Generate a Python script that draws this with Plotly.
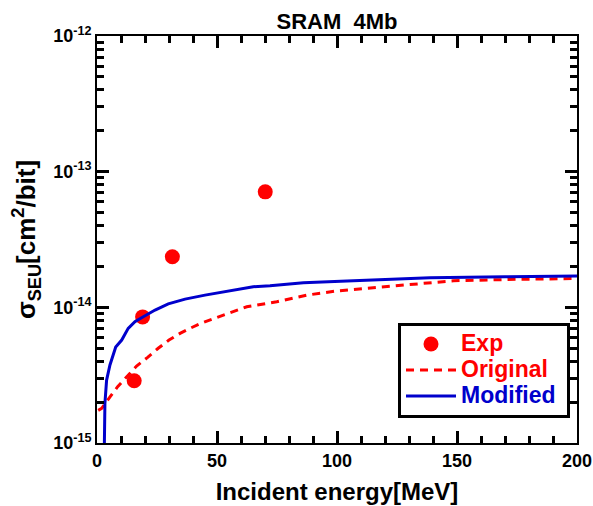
import plotly.graph_objects as go

# Measured SEU cross sections
exp_energy = [15.5, 19.0, 31.4, 70.1]
exp_sigma = [2.88e-15, 8.5e-15, 2.36e-14, 7.1e-14]

# Original model
orig_energy = [0.5, 1.96, 5.42, 8.6, 12.4, 16.5, 21.1, 25.5, 30.0, 34.6, 38.75, 43.3,
               47.8, 52.6, 62.4, 74.9, 87.4, 99.9, 113.75, 127.6, 137.4, 148.5,
               176.25, 194.3, 200.0]
orig_sigma = [1.74e-15, 1.80e-15, 2.19e-15, 2.60e-15, 3.08e-15, 3.69e-15, 4.28e-15,
              4.99e-15, 5.74e-15, 6.43e-15, 7.0e-15, 7.62e-15, 8.16e-15, 8.77e-15,
              1.01e-14, 1.10e-14, 1.23e-14, 1.32e-14, 1.39e-14, 1.46e-14, 1.50e-14,
              1.57e-14, 1.61e-14, 1.62e-14, 1.63e-14]

# Modified model
mod_energy = [3.0, 3.3, 4.0, 5.4, 7.8, 10.3, 13.0, 15.8, 19.3, 24.2, 29.7, 36.7,
              45.0, 52.6, 58.2, 65.1, 72.1, 86.0, 106.8, 138.75, 170.0, 200.0]
mod_sigma = [8e-16, 1.96e-15, 2.91e-15, 3.76e-15, 5.1e-15, 5.74e-15, 7.0e-15,
             7.83e-15, 8.53e-15, 9.55e-15, 1.06e-14, 1.15e-14, 1.23e-14, 1.30e-14,
             1.34e-14, 1.42e-14, 1.44e-14, 1.52e-14, 1.57e-14, 1.65e-14, 1.68e-14,
             1.70e-14]

y_ticks = [1e-15, 1e-14, 1e-13, 1e-12]
y_ticktext = ["10<sup>-15</sup>", "10<sup>-14</sup>", "10<sup>-13</sup>", "10<sup>-12</sup>"]

RED = "#FF0000"
BLUE = "#0000CC"
TICK = "#000000"
FONT = "Liberation Sans, Arial, sans-serif"


def legend_label(text, color):
    return f'<span style="color:{color};font-size:23px">{text}</span>'


fig = go.Figure()
fig.add_trace(go.Scatter(
    x=exp_energy, y=exp_sigma, mode="markers",
    name=legend_label("Exp", RED),
    marker=dict(color=RED, size=15, symbol="circle"),
))
fig.add_trace(go.Scatter(
    x=orig_energy, y=orig_sigma, mode="lines",
    name=legend_label("Original", RED),
    line=dict(color=RED, width=3, dash="8px,6px"),
))
fig.add_trace(go.Scatter(
    x=mod_energy, y=mod_sigma, mode="lines",
    name=legend_label("Modified&nbsp;", BLUE),
    line=dict(color=BLUE, width=3),
))

title_font = dict(family=FONT, size=24, color="black", weight="bold")

fig.update_layout(
    width=593, height=506,
    margin=dict(l=97, r=16, t=36, b=63),
    paper_bgcolor="white", plot_bgcolor="white",
    # tick labels take the global font
    font=dict(family=FONT, size=18, color="black", weight="bold"),
    title=dict(text="SRAM  4Mb", x=(97 + 577) / 2 / 593, xanchor="center",
               y=1 - 21 / 506, yanchor="middle",
               font=dict(family=FONT, size=22, color="black", weight="bold")),
    xaxis=dict(
        range=[0, 200], tickmode="linear", tick0=0, dtick=50,
        ticks="inside", ticklen=12, tickwidth=3, tickcolor=TICK,
        minor=dict(ticks="inside", dtick=10, ticklen=7, tickwidth=3,
                   tickcolor=TICK, showgrid=False),
        showline=True, linecolor="black", linewidth=2, mirror="ticks",
        showgrid=False, zeroline=False, automargin=False,
        title=dict(text="Incident energy[MeV]", standoff=14, font=title_font),
    ),
    yaxis=dict(
        type="log", range=[-15, -12], tickmode="array",
        tickvals=y_ticks, ticktext=y_ticktext,
        ticks="inside", ticklen=12, tickwidth=3, tickcolor=TICK,
        minor=dict(ticks="inside", dtick="D1", ticklen=7, tickwidth=3,
                   tickcolor=TICK),
        showline=True, linecolor="black", linewidth=2, mirror="ticks",
        showgrid=False, zeroline=False, automargin=False,
        title=dict(text="σ<sub>SEU</sub>[cm<sup>2</sup>/bit]", standoff=10,
                   font=dict(family=FONT, size=26, color="black", weight="bold")),
    ),
    legend=dict(
        x=(398 - 97) / 480, y=(443 - 323) / 407, xanchor="left", yanchor="top",
        bgcolor="white", bordercolor="black", borderwidth=3,
        font=dict(family=FONT, size=17.7, weight="bold"),
        itemwidth=50, tracegroupgap=0,
    ),
    showlegend=True,
)

fig.write_html("out.html")
